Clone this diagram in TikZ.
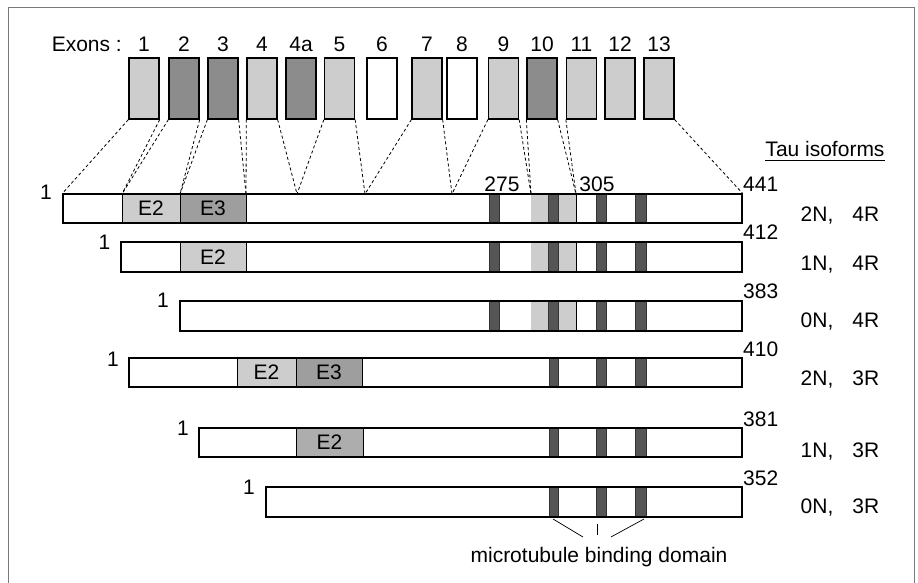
\documentclass[tikz,border=0pt]{standalone}
\usepackage{fontspec}
\setmainfont{Liberation Sans}
\usetikzlibrary{fit}
\definecolor{exlite}{HTML}{CDCDCD}
\definecolor{exdark}{HTML}{8C8C8C}
\definecolor{segthree}{HTML}{9E9E9E}
\definecolor{segmid}{HTML}{ADADAD}
\definecolor{repgray}{HTML}{555555}
\definecolor{framegray}{HTML}{7A7A7A}

% microtubule-binding repeats inside a bar, given its top and bottom
\newcommand\mtfour[2]{%
  \fill[exlite] (531,#1) rectangle (548,#2);
  \fill[exlite] (558,#1) rectangle (576,#2);
  \draw[repeatbox] (548,#1) rectangle (558,#2);
  \draw[repeatbox] (489,#1) rectangle (499,#2);
  \draw[repeatbox] (596,#1) rectangle (606,#2);
  \draw[repeatbox] (635,#1) rectangle (646,#2);
  \draw[thin] (576,#1) -- (576,#2);}
\newcommand\mtthree[2]{%
  \draw[repeatbox] (549,#1) rectangle (558,#2);
  \draw[repeatbox] (596,#1) rectangle (606,#2);
  \draw[repeatbox] (635,#1) rectangle (646,#2);}

\begin{document}
\begin{tikzpicture}[x=1pt,y=-1pt,
  txt/.style={font=\fontsize{21}{25}\selectfont, inner sep=0pt},
  exon/.style={draw, line width=1.3pt, minimum width=30pt, minimum height=61pt, inner sep=0pt},
  barbox/.style={draw, line width=1.2pt, inner sep=0pt},
  repeatbox/.style={fill=repgray, draw=black!80, line width=0.6pt},
  splice/.style={dashed, dash pattern=on 3pt off 2.5pt, line width=0.8pt},
  divider/.style={line width=1pt}]

\useasboundingbox (0,0) rectangle (918,583);
\fill[white] (0,0) rectangle (918,583);
\draw[framegray, line width=1pt] (8,583) -- (8,8) -- (914,8) -- (914,583);

% exon boxes
\node[txt, anchor=east] (exlabel) at (122,44) {Exons :};
\foreach \nm/\cx/\col in {1/144/exlite, 2/184/exdark, 3/223/exdark, 4/262/exlite,
    4a/301/exdark, 5/339.5/exlite, 6/382/white, 7/427/exlite, 8/462/white,
    9/503.5/exlite, 10/542/exdark, 11/581.5/exlite, 12/620/exlite, 13/659/exlite}{
  \node[exon, fill=\col] (e\nm) at (\cx,88.5) {};
  \node[txt] (n\nm) at (\cx,44) {\nm};
}

% isoform bars: coloured segments first, outline on top
% 2N4R
\fill[exlite] (122,194) rectangle (180,223);
\fill[segthree] (180,194) rectangle (246,223);
\mtfour{194}{223}
\node[barbox, fit={(63,194) (742,223)}] (r1) {};
\draw[divider] (122,194) -- (122,223) (180,194) -- (180,223) (246,194) -- (246,223);
\node[txt] at (151,208.5) {E2};
\node[txt] at (213,208.5) {E3};
% 1N4R
\fill[exlite] (180,242) rectangle (246,272);
\mtfour{242}{272}
\node[barbox, fit={(121,242) (742,272)}] (r2) {};
\draw[divider] (180,242) -- (180,272) (246,242) -- (246,272);
\node[txt] at (213,257) {E2};
% 0N4R
\mtfour{301}{331}
\node[barbox, fit={(180,301) (742,331)}] (r3) {};
% 2N3R
\fill[exlite] (237,358) rectangle (296,387);
\fill[segthree] (296,358) rectangle (362,387);
\mtthree{358}{387}
\node[barbox, fit={(129,358) (742,387)}] (r4) {};
\draw[divider] (237,358) -- (237,387) (296,358) -- (296,387) (362,358) -- (362,387);
\node[txt] at (266.5,372.5) {E2};
\node[txt] at (329,372.5) {E3};
% 1N3R
\fill[segmid] (296,428) rectangle (363,457);
\mtthree{428}{457}
\node[barbox, fit={(199,428) (742,457)}] (r5) {};
\draw[divider] (296,428) -- (296,457) (363,428) -- (363,457);
\node[txt] at (329.5,442.5) {E2};
% 0N3R
\mtthree{487}{517}
\node[barbox, fit={(266,487) (742,517)}] (r6) {};

% residue numbers
\node[txt] (s1) at (46,192) {1};
\node[txt] (s2) at (104.5,242) {1};
\node[txt] (s3) at (163,300) {1};
\node[txt] (s4) at (113,359) {1};
\node[txt] (s5) at (183,428) {1};
\node[txt] (s6) at (249,487) {1};
\node[txt, anchor=west] (t1) at (743,184) {441};
\node[txt, anchor=west] (t2) at (743,232.5) {412};
\node[txt, anchor=west] (t3) at (743,291) {383};
\node[txt, anchor=west] (t4) at (743,349) {410};
\node[txt, anchor=west] (t5) at (743,419) {381};
\node[txt, anchor=west] (t6) at (743,478) {352};
\node[txt] (p275) at (502,184) {275};
\node[txt] (p305) at (597,184) {305};

% isoform names
\node[txt, anchor=base] (iso) at (825,157) {Tau isoforms};
\draw[line width=0.9pt] ([yshift=-3pt]iso.base west) -- ([yshift=-3pt]iso.base east);
\node[txt, anchor=base] (i1) at (840,221) {2N,\hspace{19pt}4R};
\node[txt, anchor=base] (i2) at (840,270) {1N,\hspace{19pt}4R};
\node[txt, anchor=base] (i3) at (840,327) {0N,\hspace{19pt}4R};
\node[txt, anchor=base] (i4) at (840,385) {2N,\hspace{19pt}3R};
\node[txt, anchor=base] (i5) at (840,457) {1N,\hspace{19pt}3R};
\node[txt, anchor=base] (i6) at (840,513) {0N,\hspace{19pt}3R};

% splice junctions on the longest isoform
\coordinate (j2) at (122,194);
\coordinate (j3) at (180,194);
\coordinate (j4) at (246,194);
\coordinate (j5) at (297,194);
\coordinate (j6) at (365,194);
\coordinate (j7) at (452,194);
\coordinate (j8) at (531,194);
\coordinate (j9) at (576,194);
\draw[splice] (e1.south west) -- (r1.north west);
\draw[splice] (e1.south east) -- (j2);
\draw[splice] (e2.south west) -- (j2);
\draw[splice] (e2.south east) -- (j3);
\draw[splice] (e3.south west) -- (j3);
\draw[splice] (e3.south east) -- (j4);
\draw[splice] (e4.south west) -- (j4);
\draw[splice] (e4.south east) -- (j5);
\draw[splice] (e5.south west) -- (j5);
\draw[splice] (e5.south east) -- (j6);
\draw[splice] (e7.south west) -- (j6);
\draw[splice] (e7.south east) -- (j7);
\draw[splice] (e9.south west) -- (j7);
\draw[splice] (e9.south east) -- (j8);
\draw[splice] (e10.south west) -- (j8);
\draw[splice] (e10.south east) -- (j9);
\draw[splice] (e11.south west) -- (j9);
\draw[splice] (e13.south east) -- (r1.north east);

% microtubule binding domain callout
\node[txt, anchor=base] (mbd) at (599,562) {microtubule binding domain};
\coordinate (m1) at (553,519);
\coordinate (m1e) at (583,537);
\coordinate (m2) at (597,524);
\coordinate (m2e) at (597,535);
\coordinate (m3) at (644,519);
\coordinate (m3e) at (611,537);
\draw[line width=0.7pt] (m1) -- (m1e);
\draw[line width=0.7pt] (m2) -- (m2e);
\draw[line width=0.7pt] (m3) -- (m3e);
\end{tikzpicture}
\end{document}
